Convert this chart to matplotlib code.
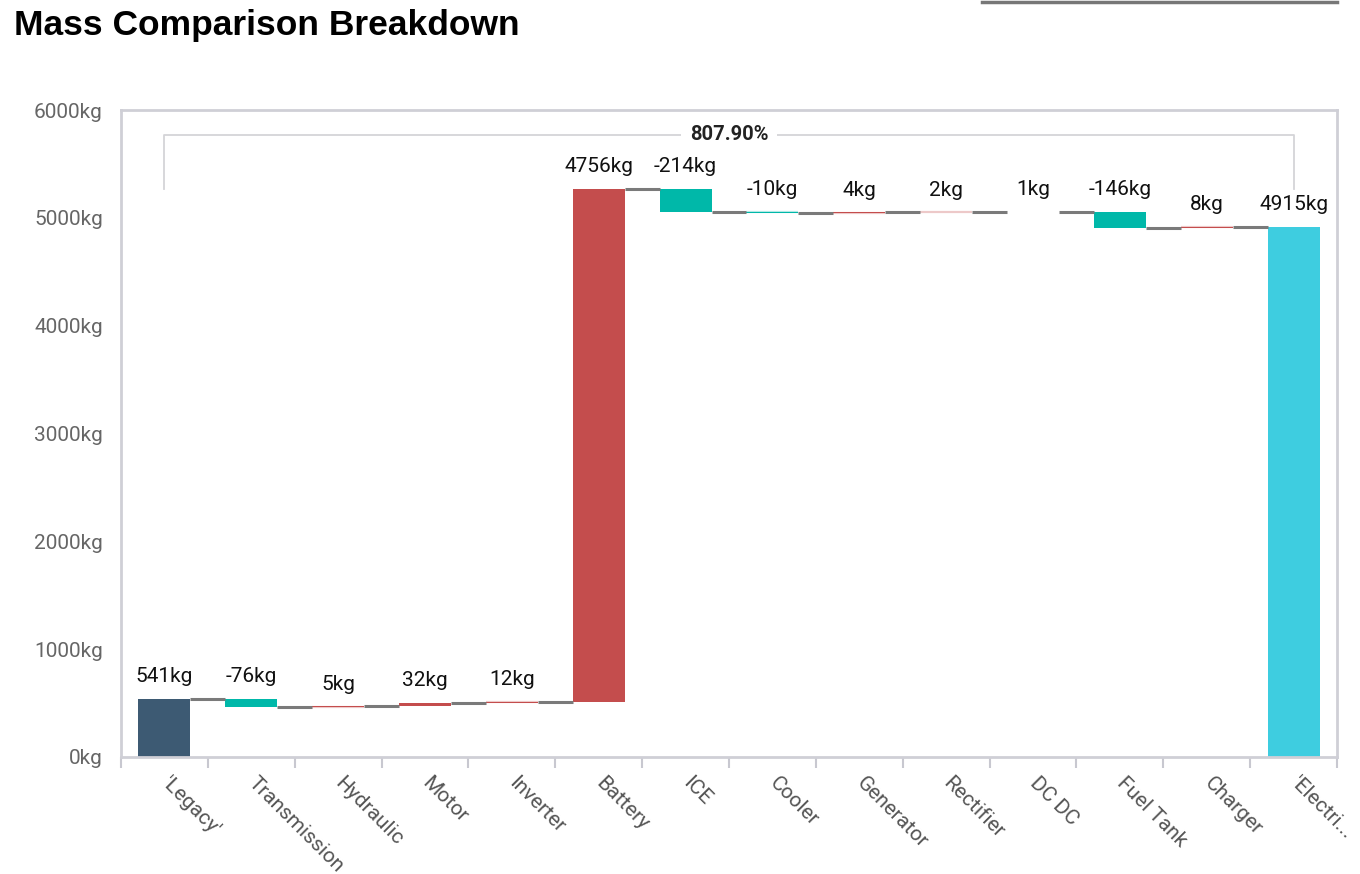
import numpy as np
from matplotlib import pyplot as plt
from matplotlib.lines import Line2D
from matplotlib.transforms import ScaledTranslation

categories = ["'Legacy'", "Transmission", "Hydraulic", "Motor", "Inverter", "Battery",
              "ICE", "Cooler", "Generator", "Rectifier", "DC DC", "Fuel Tank",
              "Charger", "'Electri..."]
changes = [541, -76, 5, 32, 12, 4756, -214, -10, 4, 2, 1, -146, 8, 4915]
is_total = [True, False, False, False, False, False, False, False, False, False,
            False, False, False, True]
bracket_label = "807.90%"
y_ticks = [0, 1000, 2000, 3000, 4000, 5000, 6000]

TOTAL_START = '#3d5a73'
TOTAL_END = '#3ecde0'
UP = '#c44d4d'
DOWN = '#00b8a9'
CONNECTOR = '#7a7a7a'
BAR_W = 0.6

fig = plt.figure(figsize=(13.6, 8.74), dpi=100)
ax = fig.add_axes([121 / 1360, 1 - 757 / 874, (1337 - 121) / 1360, (757 - 110) / 874])

# compute bottoms / tops of every bar
x = np.arange(len(categories))
bottoms, heights, colors, levels = [], [], [], []
running = 0
for i, (c, tot) in enumerate(zip(changes, is_total)):
    if tot:
        bottoms.append(0)
        heights.append(c)
        colors.append(TOTAL_START if i == 0 else TOTAL_END)
        running = c
    else:
        bottoms.append(running if c >= 0 else running + c)
        heights.append(abs(c))
        colors.append(UP if c >= 0 else DOWN)
        running += c
    levels.append(running)

ax.bar(x, heights, bottom=bottoms, width=BAR_W, color=colors, linewidth=0, zorder=2)

# tiny bars get a faint outline so they still show up as a thin line
for i in range(len(categories)):
    if 1 < heights[i] < 15:
        ax.plot([x[i] - BAR_W / 2, x[i] + BAR_W / 2],
                [bottoms[i] + heights[i] / 2] * 2, color=colors[i], alpha=0.3,
                lw=1.6, solid_capstyle='butt', zorder=2)

# connectors between bars
for i in range(len(categories) - 1):
    ax.plot([x[i] + BAR_W / 2, x[i + 1] - BAR_W / 2], [levels[i], levels[i]],
            color=CONNECTOR, lw=2.2, solid_capstyle='butt', zorder=3)

# value labels above each bar
for i, c in enumerate(changes):
    top = bottoms[i] + heights[i]
    ax.annotate(f"{c}kg", (x[i], top), xytext=(0, 16), textcoords='offset points',
                ha='center', va='center', fontsize=15, family='Roboto', color='#111111')

# bracket showing overall change
b_y = 5770
b_end = 5270
ax.plot([x[0], x[0], x[-1], x[-1]], [b_end, b_y, b_y, b_end], color='#d4d4d8',
        lw=1.3, zorder=1)
ax.text((x[0] + x[-1]) / 2, b_y, bracket_label, ha='center', va='center',
        fontsize=14.5, fontweight='bold', family='Roboto', color='#222222',
        bbox=dict(facecolor='white', edgecolor='none', pad=6), zorder=4)

ax.set_xlim(-0.5, len(categories) - 0.5)
ax.set_ylim(0, 6000)
ax.set_yticks(y_ticks)
ax.set_yticklabels([f"{v}kg" for v in y_ticks], fontsize=15, family='Roboto', color='#666666')
ax.tick_params(axis='y', length=0, pad=13)

ax.set_xticks(x)
ax.set_xticklabels(categories, rotation=-45, ha='left', va='top',
                   rotation_mode='anchor', fontsize=15, family='Roboto', color='#555555')
ax.tick_params(axis='x', length=0, pad=12)
shift = ScaledTranslation(7 / 100, 0, fig.dpi_scale_trans)
for lbl in ax.get_xticklabels():
    lbl.set_transform(lbl.get_transform() + shift)
ax.set_xticks(np.arange(len(categories) + 1) - 0.5, minor=True)
ax.tick_params(axis='x', which='minor', length=8, width=1.5, color='#c8c8d0')

for side in ['left', 'right', 'top', 'bottom']:
    ax.spines[side].set_color('#cfcfd6')
    ax.spines[side].set_linewidth(2)

fig.text(14 / 1360, 1 - 25 / 874, "Mass Comparison Breakdown", fontsize=25.5,
         fontweight='bold', family='Liberation Sans', ha='left', va='center')
fig.add_artist(Line2D([982 / 1360, 1337 / 1360], [1 - 1.5 / 874, 1 - 1.5 / 874],
                      color='#777777', lw=2.5))

fig.savefig('out.png', dpi=100, facecolor='white')
